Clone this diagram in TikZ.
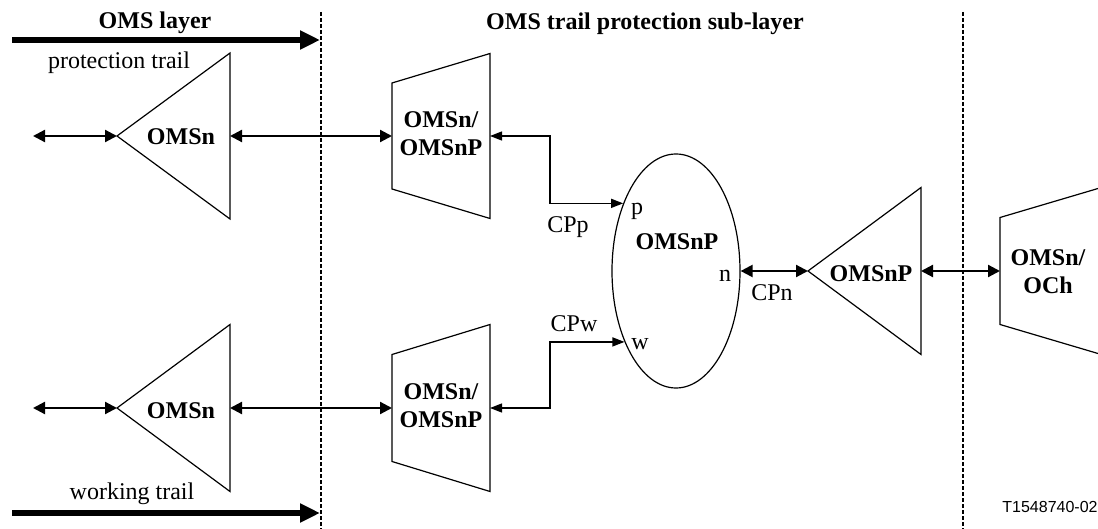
\documentclass[tikz,border=0pt]{standalone}
\usepackage{fontspec}
\setmainfont{Liberation Serif}
\newfontfamily\tagfont{Liberation Sans}
\usetikzlibrary{arrows.meta,shapes.geometric}

\begin{document}
\begin{tikzpicture}[x=0.5pt,y=-0.5pt,
  blk/.style={line width=0.6pt},
  lbl/.style={font=\fontsize{12}{14}\selectfont\bfseries, inner sep=0pt, align=center},
  txt/.style={font=\fontsize{12}{14}\selectfont, inner sep=0pt, anchor=base},
  port/.style={line width=1.1pt, {Triangle[length=6pt,width=6pt]}-{Triangle[length=6pt,width=6pt]}},
  cp/.style={line width=0.65pt, {Triangle[length=6pt,width=4.5pt]}-{Triangle[length=6pt,width=4.5pt]}},
  trail/.style={line width=3pt, -{Triangle[length=10pt,width=9pt]}},
  sep/.style={line width=1pt, dash pattern=on 2pt off 1pt}]
\useasboundingbox (0,0) rectangle (1098,529);

% layer boundaries
\draw[sep] (321,12) -- (321,529);
\draw[sep] (963,12) -- (963,529);
\node[lbl, anchor=base] (omsl) at (155,29) {OMS layer};
\node[lbl, anchor=base] (subl) at (645,30) {OMS trail protection sub-layer};

% protection trail
\coordinate (pS) at (12,40);
\coordinate (pE) at (320,40);
\draw[trail] (pS) -- (pE);
\node[txt] (ptrl) at (119,69) {protection trail};

\coordinate (pL) at (33,136);
\coordinate (tpA) at (117,136);
\coordinate (tpB) at (230,136);
\draw[blk] (tpA) -- (230,53) -- (230,219) -- cycle;
\node[lbl, anchor=base] (tpN) at (181,145) {OMSn};

\coordinate (trAw) at (392,136);
\coordinate (trAe) at (490,136);
\draw[blk] (392,83) -- (490,53.5) -- (490,218.5) -- (392,189) -- cycle;
\node[lbl] (trAN) at (441,134) {OMSn/\\OMSnP};

\draw[port] (pL) -- (tpA);
\draw[port] (tpB) -- (trAw);

% working trail
\coordinate (wS) at (12,513);
\coordinate (wE) at (320,513);
\draw[trail] (wS) -- (wE);
\node[txt] (wtrl) at (132,499) {working trail};

\coordinate (wL) at (33,408);
\coordinate (twA) at (117,408);
\coordinate (twB) at (230,408);
\draw[blk] (twA) -- (230,324.5) -- (230,491.5) -- cycle;
\node[lbl, anchor=base] (twN) at (181,418) {OMSn};

\coordinate (trBw) at (392,408);
\coordinate (trBe) at (490,408);
\draw[blk] (392,354.5) -- (490,324.5) -- (490,491.5) -- (392,461.5) -- cycle;
\node[lbl] (trBN) at (441,406) {OMSn/\\OMSnP};

\draw[port] (wL) -- (twA);
\draw[port] (twB) -- (trBw);

% protection switch
\node[draw, blk, ellipse, inner sep=0pt, minimum width=64pt, minimum height=117pt] (snc) at (676,271) {};
\node[lbl, anchor=base] (sncN) at (677,250) {OMSnP};
\node[txt] (pp) at (637,215) {p};
\node[txt] (pw) at (640,350) {w};
\node[txt] (pn) at (725,282) {n};

\draw[cp] (trAe) -- ++(60,0) |- (snc.128);
\draw[cp] (trBe) -- ++(60,0) |- (snc.234);
\node[txt] (cpp) at (568,233) {CPp};
\node[txt] (cpw) at (574,332) {CPw};

% towards OCh
\coordinate (tnA) at (808,271);
\coordinate (tnB) at (921,271);
\draw[blk] (tnA) -- (921,187.5) -- (921,354.5) -- cycle;
\node[lbl, anchor=base] (tnN) at (871,282) {OMSnP};
\draw[port] (snc.east) -- (tnA);
\node[txt] (cpn) at (772,300) {CPn};

\coordinate (ochW) at (1000,271);
\draw[blk] (1098,188.5) -- (1000,217.5) -- (1000,324.5) -- (1098,353.5);
\node[lbl] (ochN) at (1048,272) {OMSn/\\OCh};
\draw[port] (tnB) -- (ochW);

\node[font=\fontsize{8}{10}\selectfont\tagfont, inner sep=0pt, anchor=base] (tag) at (1050,512) {T1548740-02};
\end{tikzpicture}
\end{document}
